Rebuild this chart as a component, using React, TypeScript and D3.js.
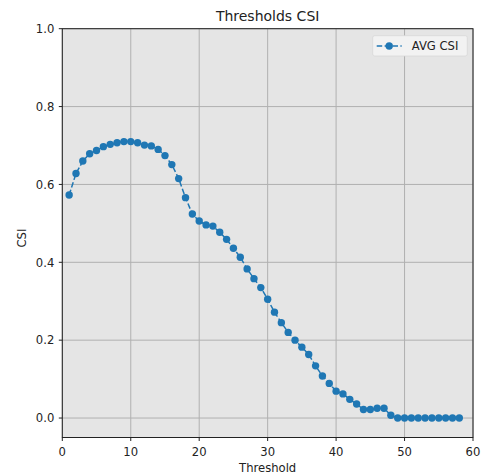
import React from "react";
import * as d3 from "d3";

const thresholds = d3.range(1, 59);
const csiValues = [
  0.573, 0.628, 0.660, 0.679, 0.687, 0.697, 0.703, 0.707, 0.710, 0.710,
  0.707, 0.701, 0.699, 0.690, 0.674, 0.651, 0.615, 0.566, 0.524, 0.506,
  0.496, 0.493, 0.477, 0.459, 0.436, 0.413, 0.383, 0.358, 0.335, 0.305,
  0.272, 0.245, 0.220, 0.200, 0.182, 0.163, 0.134, 0.108, 0.089, 0.069,
  0.062, 0.048, 0.036, 0.022, 0.022, 0.025, 0.025, 0.007, 0.0, 0.0,
  0.0, 0.0, 0.0, 0.0, 0.0, 0.0, 0.0, 0.0,
];
const xTicks = [0, 10, 20, 30, 40, 50, 60];
const yTicks = [0.0, 0.2, 0.4, 0.6, 0.8, 1.0];
const seriesName = "AVG CSI";
const title = "Thresholds CSI";
const xLabel = "Threshold";
const yLabel = "CSI";

const W = 481;
const H = 473;
const L = 62.3, R = 473, T = 28.7, B = 437.5;
const FONT = "'DejaVu Sans', sans-serif";
const BLUE = "#1f77b4";
const FS = 11.6;

export default function App() {
  const x = d3.scaleLinear().domain([0, 60]).range([L, R]);
  const y = d3.scaleLinear().domain([-0.05, 1.0]).range([B, T]);
  const data = thresholds.map((t, i) => ({ t, v: csiValues[i] }));
  const line = d3
    .line<{ t: number; v: number }>()
    .x((d) => x(d.t))
    .y((d) => y(d.v));

  return (
    <svg
      width={W}
      height={H}
      style={{ position: "absolute", left: 0, top: 0, background: "#fff" }}
      fontFamily={FONT}
    >
      <rect x={L} y={T} width={R - L} height={B - T} fill="#e5e5e5" />
      {xTicks.map((t) => (
        <line key={"gx" + t} x1={x(t)} x2={x(t)} y1={T} y2={B} stroke="#b0b0b0" strokeWidth={1} />
      ))}
      {yTicks.map((t) => (
        <line key={"gy" + t} x1={L} x2={R} y1={y(t)} y2={y(t)} stroke="#b0b0b0" strokeWidth={1} />
      ))}
      <path d={line(data) || ""} fill="none" stroke={BLUE} strokeWidth={1.5} strokeDasharray="5.5,2.4" />
      {data.map((d) => (
        <circle key={d.t} cx={x(d.t)} cy={y(d.v)} r={3.7} fill={BLUE} />
      ))}
      <rect x={L} y={T} width={R - L} height={B - T} fill="none" stroke="#222" strokeWidth={1} />
      {xTicks.map((t) => (
        <g key={"xt" + t}>
          <line x1={x(t)} x2={x(t)} y1={B} y2={B + 3.5} stroke="#222" />
          <text x={x(t)} y={B + 18.5} textAnchor="middle" fontSize={FS} fill="#222">
            {t}
          </text>
        </g>
      ))}
      {yTicks.map((t) => (
        <g key={"yt" + t}>
          <line x1={L - 3.5} x2={L} y1={y(t)} y2={y(t)} stroke="#222" />
          <text x={L - 8} y={y(t) + 4.2} textAnchor="end" fontSize={FS} fill="#222">
            {t.toFixed(1)}
          </text>
        </g>
      ))}
      <text x={(L + R) / 2} y={21} textAnchor="middle" fontSize={14} fill="#222">
        {title}
      </text>
      <text x={(L + R) / 2} y={471.5} textAnchor="middle" fontSize={FS} fill="#222">
        {xLabel}
      </text>
      <text
        transform={`translate(26,${(T + B) / 2 + 5}) rotate(-90)`}
        textAnchor="middle"
        fontSize={FS}
        fill="#222"
      >
        {yLabel}
      </text>
      <g>
        <rect x={372.7} y={35.7} width={94.6} height={20.3} rx={2} fill="#f2f2f2" stroke="#d8d8d8" strokeWidth={0.8} />
        <line x1={376.7} x2={401.7} y1={46} y2={46} stroke={BLUE} strokeWidth={1.5} strokeDasharray="5.5,2.4" />
        <circle cx={389.2} cy={46} r={3.7} fill={BLUE} />
        <text x={411.7} y={50.2} fontSize={FS} fill="#222">
          {seriesName}
        </text>
      </g>
    </svg>
  );
}
